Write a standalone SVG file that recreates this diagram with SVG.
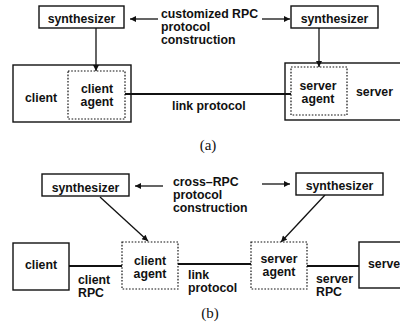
<svg xmlns="http://www.w3.org/2000/svg" width="400" height="332" viewBox="0 0 400 332">
<defs>
<style>
.box{fill:#fff;stroke:#111;stroke-width:1.4}
.dash{fill:#fff;stroke:#111;stroke-width:1.2;stroke-dasharray:1.6 1.6}
.ln{stroke:#111;stroke-width:1.3;fill:none}
.lk{stroke:#111;stroke-width:2;fill:none}
text{font-family:"Liberation Sans",Arial,sans-serif;font-weight:bold;font-size:12.3px;fill:#111}
.c{text-anchor:middle}
.cap{font-family:"Liberation Serif","Times New Roman",serif;font-weight:normal;font-size:15px;text-anchor:middle}
</style>
<marker id="ah" viewBox="0 0 10 10" refX="10" refY="5" markerWidth="7" markerHeight="6" markerUnits="userSpaceOnUse" orient="auto">
<path d="M0,0 L10,5 L0,10 z" fill="#111"/>
</marker>
</defs>
<rect width="400" height="332" fill="#fff"/>
<!-- panel (a) -->
<g id="a-client"><rect class="box" x="13" y="65" width="118" height="57"/><text x="25" y="102">client</text></g>
<g id="a-server"><rect class="box" x="285" y="63" width="120" height="57"/><text x="356" y="96">server</text></g>
<g id="a-connectors">
<line class="lk" x1="125" y1="94" x2="291" y2="94"/>
<line class="ln" x1="96" y1="28" x2="96" y2="71" marker-end="url(#ah)"/>
<line class="ln" x1="319" y1="28" x2="319" y2="67" marker-end="url(#ah)"/>
<line class="ln" x1="158" y1="19" x2="130" y2="19" marker-end="url(#ah)"/>
<line class="ln" x1="262" y1="19" x2="290" y2="19" marker-end="url(#ah)"/>
</g>
<g id="a-synth-left"><rect class="box" x="39" y="6" width="85" height="22"/><text class="c" x="81.5" y="23">synthesizer</text></g>
<g id="a-synth-right"><rect class="box" x="291" y="6" width="87" height="22"/><text class="c" x="334.5" y="23">synthesizer</text></g>
<g id="a-client-agent"><rect class="dash" x="68" y="71" width="57" height="48"/><text class="c" x="97" y="92.5">client</text><text class="c" x="97" y="105.5">agent</text></g>
<g id="a-server-agent"><rect class="dash" x="291" y="67" width="56" height="48"/><text class="c" x="318" y="89.5">server</text><text class="c" x="318" y="102.5">agent</text></g>
<g id="a-labels">
<text x="161" y="18">customized RPC</text>
<text x="161" y="31">protocol</text>
<text x="161" y="44">construction</text>
<text x="172" y="110">link protocol</text>
<text class="cap" x="208" y="150">(a)</text>
</g>
<!-- panel (b) -->
<g id="b-connectors">
<line class="lk" x1="69" y1="266" x2="122" y2="266"/>
<line class="lk" x1="178" y1="264" x2="251" y2="264"/>
<line class="lk" x1="307" y1="266" x2="359" y2="266"/>
<line class="ln" x1="100" y1="197" x2="148" y2="241" marker-end="url(#ah)"/>
<line class="ln" x1="325" y1="195" x2="281" y2="242" marker-end="url(#ah)"/>
<line class="ln" x1="163" y1="186" x2="135" y2="186" marker-end="url(#ah)"/>
<line class="ln" x1="262" y1="184" x2="290" y2="184" marker-end="url(#ah)"/>
</g>
<g id="b-synth-left"><rect class="box" x="42" y="174" width="87" height="22"/><text class="c" x="85.5" y="192">synthesizer</text></g>
<g id="b-synth-right"><rect class="box" x="296" y="173" width="87" height="22"/><text class="c" x="339.5" y="190">synthesizer</text></g>
<g id="b-client"><rect class="box" x="13" y="243" width="56" height="47"/><text class="c" x="41" y="269">client</text></g>
<g id="b-client-agent"><rect class="dash" x="122" y="242" width="56" height="47"/><text class="c" x="150" y="264.5">client</text><text class="c" x="150" y="277.5">agent</text></g>
<g id="b-server-agent"><rect class="dash" x="251" y="242" width="56" height="47"/><text class="c" x="279" y="262.5">server</text><text class="c" x="279" y="275.5">agent</text></g>
<g id="b-server"><rect class="box" x="359" y="242" width="60" height="46"/><text x="368" y="268">server</text></g>
<g id="b-labels">
<text x="173" y="186">cross–RPC</text>
<text x="173" y="199">protocol</text>
<text x="173" y="212">construction</text>
<text x="78" y="284">client</text>
<text x="78" y="297">RPC</text>
<text x="188" y="279">link</text>
<text x="188" y="292">protocol</text>
<text x="316" y="283">server</text>
<text x="316" y="296">RPC</text>
<text class="cap" x="210" y="318">(b)</text>
</g>
</svg>
